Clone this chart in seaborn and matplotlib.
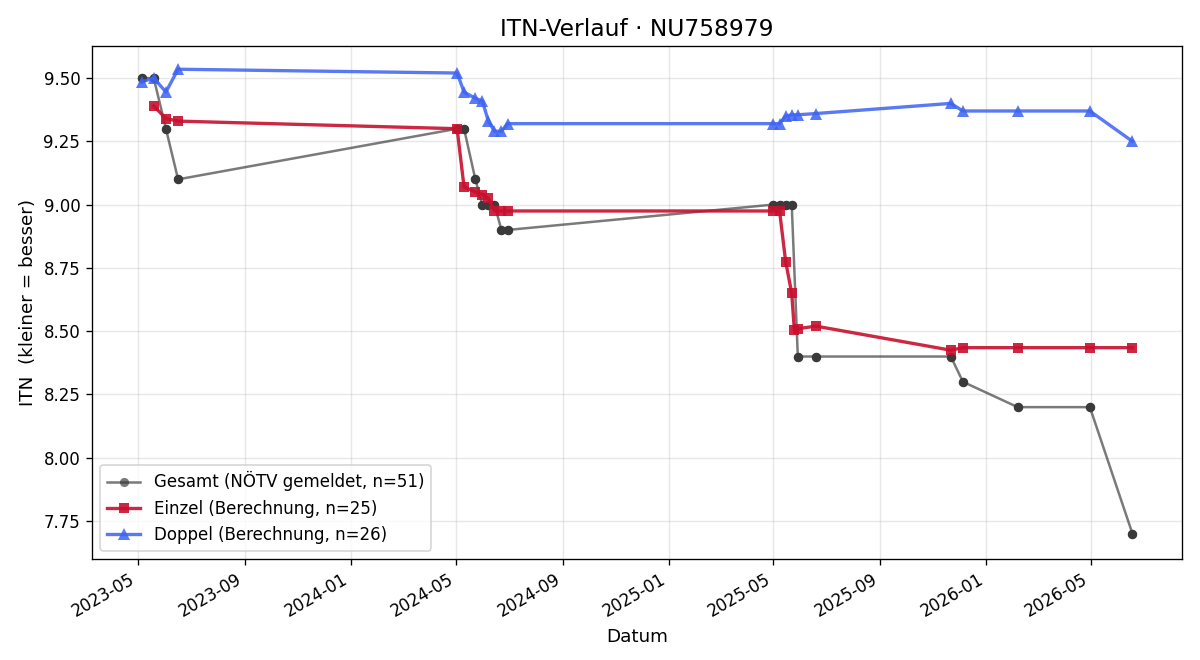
import matplotlib
matplotlib.use("Agg")
import matplotlib.pyplot as plt
import matplotlib.dates as mdates
import seaborn as sns
import pandas as pd

gesamt_dates = ["2023-05-05", "2023-05-19", "2023-06-02", "2023-06-16",
                "2024-05-02", "2024-05-10", "2024-05-23", "2024-05-31", "2024-06-07",
                "2024-06-14", "2024-06-22", "2024-06-29",
                "2025-04-30", "2025-05-08", "2025-05-15", "2025-05-22", "2025-05-29",
                "2025-06-19", "2025-11-21", "2025-12-05", "2026-02-06", "2026-04-30",
                "2026-06-18"]
gesamt_vals = [9.50, 9.50, 9.30, 9.10,
               9.30, 9.30, 9.10, 9.00, 9.00, 9.00, 8.90, 8.90,
               9.00, 9.00, 9.00, 9.00, 8.40, 8.40,
               8.40, 8.30, 8.20, 8.20, 7.70]

einzel_dates = ["2023-05-19", "2023-06-02", "2023-06-16",
                "2024-05-02", "2024-05-10", "2024-05-23", "2024-05-31", "2024-06-07",
                "2024-06-14", "2024-06-22", "2024-06-29",
                "2025-04-30", "2025-05-08", "2025-05-15", "2025-05-22", "2025-05-25",
                "2025-05-29", "2025-06-19",
                "2025-11-21", "2025-12-05", "2026-02-06", "2026-04-30", "2026-06-18"]
einzel_vals = [9.39, 9.34, 9.33,
               9.30, 9.07, 9.05, 9.04, 9.025, 8.975, 8.975, 8.975,
               8.975, 8.975, 8.775, 8.65, 8.505, 8.51, 8.52,
               8.425, 8.435, 8.435, 8.435, 8.435]

doppel_dates = ["2023-05-05", "2023-05-19", "2023-06-02", "2023-06-16",
                "2024-05-02", "2024-05-10", "2024-05-23", "2024-05-31", "2024-06-07",
                "2024-06-14", "2024-06-22", "2024-06-29",
                "2025-04-30", "2025-05-08", "2025-05-15", "2025-05-22", "2025-05-29",
                "2025-06-19",
                "2025-11-21", "2025-12-05", "2026-02-06", "2026-04-30", "2026-06-18"]
doppel_vals = [9.485, 9.50, 9.445, 9.535,
               9.52, 9.445, 9.42, 9.41, 9.33, 9.29, 9.29, 9.32,
               9.32, 9.32, 9.35, 9.355, 9.355, 9.36,
               9.40, 9.37, 9.37, 9.37, 9.25]

labels = ["Gesamt (NÖTV gemeldet, n=51)",
          "Einzel (Berechnung, n=25)",
          "Doppel (Berechnung, n=26)"]

g = pd.DataFrame({"Datum": pd.to_datetime(gesamt_dates), "ITN": gesamt_vals})
e = pd.DataFrame({"Datum": pd.to_datetime(einzel_dates), "ITN": einzel_vals})
d = pd.DataFrame({"Datum": pd.to_datetime(doppel_dates), "ITN": doppel_vals})

fig, ax = plt.subplots(figsize=(10, 5.5), dpi=120)

sns.lineplot(data=g, x="Datum", y="ITN", ax=ax, color="#333333", alpha=0.65,
             lw=1.5, marker="o", markersize=5.5, markeredgewidth=0,
             estimator=None, sort=False, label=labels[0])
sns.scatterplot(data=g, x="Datum", y="ITN", ax=ax, color="#3a3a3a", s=32,
                linewidth=0, zorder=3, legend=False)
sns.lineplot(data=e, x="Datum", y="ITN", ax=ax, color="#C8102E", alpha=0.9,
             lw=2, marker="s", markersize=6.5, markeredgewidth=0,
             estimator=None, sort=False, label=labels[1], zorder=4)
sns.lineplot(data=d, x="Datum", y="ITN", ax=ax, color="#3d63f2", alpha=0.85,
             lw=2, marker="^", markersize=7, markeredgewidth=0,
             estimator=None, sort=False, label=labels[2], zorder=4)

ax.xaxis.set_major_locator(mdates.MonthLocator(bymonth=[1, 5, 9]))
ax.xaxis.set_major_formatter(mdates.DateFormatter("%Y-%m"))
ax.yaxis.set_major_formatter(matplotlib.ticker.FormatStrFormatter("%.2f"))
ax.set_ylim(7.60, 9.626)
ax.grid(True, alpha=0.3)
ax.set_title("ITN-Verlauf · NU758979", fontsize=14)
ax.set_xlabel("Datum", fontsize=11)
ax.set_ylabel("ITN  (kleiner = besser)", fontsize=11)
ax.tick_params(labelsize=10)
ax.legend(loc="lower left", fontsize=10)
fig.autofmt_xdate()
fig.subplots_adjust(left=0.0767, right=0.985, top=0.930, bottom=0.153)
fig.savefig("out.png", dpi=120)
